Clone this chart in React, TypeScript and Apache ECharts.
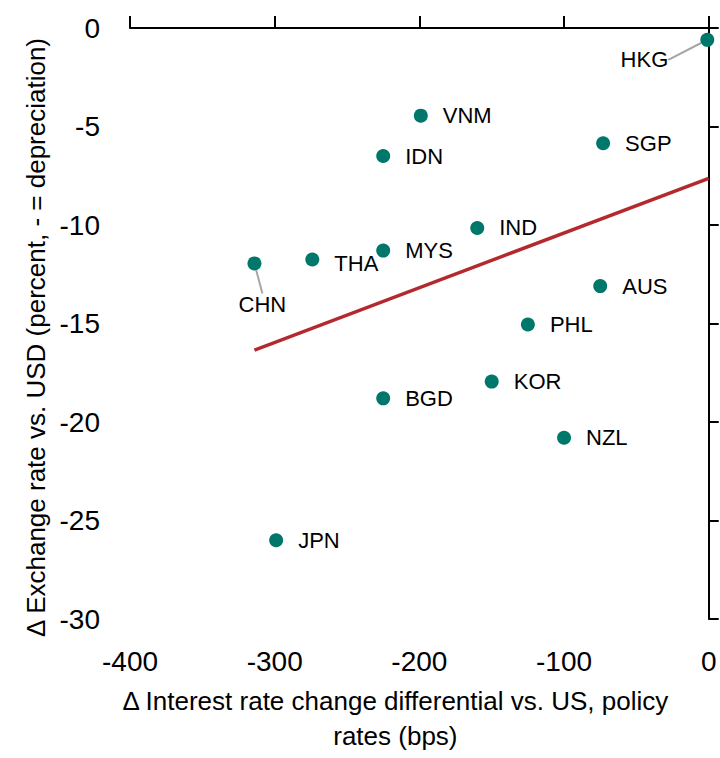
import React, { useEffect, useRef } from "react";
import * as echarts from "echarts";

const countries = ["HKG", "VNM", "IDN", "SGP", "IND", "MYS", "THA", "CHN", "AUS", "PHL", "KOR", "BGD", "NZL", "JPN"];
const rateDiff = [-1, -199, -225, -73, -160, -225, -274, -314, -75, -125, -150, -225, -100, -299];
const fxChange = [-0.6, -4.45, -6.5, -5.85, -10.15, -11.3, -11.75, -11.95, -13.1, -15.05, -17.95, -18.8, -20.8, -26.0];
const trendX = [-314, 0];
const trendY = [-16.35, -7.63];
const xTicks = [-400, -300, -200, -100, 0];
const yTicks = [0, -5, -10, -15, -20, -25, -30];

const FONT = "'Liberation Sans Narrow', 'Arial Narrow', 'Liberation Sans', Arial, sans-serif";

export default function App() {
  const ref = useRef<HTMLDivElement>(null);
  useEffect(() => {
    if (!ref.current) return;
    const chart = echarts.init(ref.current, null, { renderer: "svg" });
    const scatterData = countries.map((c, i) => {
      const item: any = { value: [rateDiff[i], fxChange[i]], name: c };
      if (c === "HKG") {
        item.label = { position: "left" };
        item.labelLine = { show: true, lineStyle: { color: "#a6a6a6", width: 2 } };
      }
      if (c === "CHN") {
        item.label = { position: "bottom" };
        item.labelLine = { show: true, lineStyle: { color: "#a6a6a6", width: 2 } };
      }
      return item;
    });
    chart.setOption({
      animation: false,
      grid: { left: 130, right: 10, top: 28, bottom: 135 },
      xAxis: [
        {
          type: "value",
          position: "top",
          min: xTicks[0],
          max: xTicks[xTicks.length - 1],
          interval: 100,
          axisLine: { show: true, lineStyle: { color: "#000", width: 2 } },
          axisTick: { show: true, length: 12, lineStyle: { color: "#000", width: 2 } },
          axisLabel: { show: false },
          splitLine: { show: false },
        },
        {
          type: "value",
          position: "bottom",
          min: xTicks[0],
          max: xTicks[xTicks.length - 1],
          interval: 100,
          axisLine: { show: false },
          axisTick: { show: false },
          axisLabel: { show: true, fontSize: 28, color: "#000", fontFamily: FONT, margin: 28 },
          splitLine: { show: false },
          name: "Δ Interest rate change differential vs. US, policy\nrates (bps)",
          nameLocation: "middle",
          nameGap: 64,
          nameTextStyle: { fontSize: 26, color: "#000", fontFamily: FONT, lineHeight: 35, padding: [0, 48, 0, 0] },
        },
      ],
      yAxis: [
        {
          type: "value",
          position: "right",
          min: yTicks[yTicks.length - 1],
          max: yTicks[0],
          interval: 5,
          axisLine: { show: true, lineStyle: { color: "#000", width: 2 } },
          axisTick: { show: true, length: 10, lineStyle: { color: "#000", width: 2 } },
          axisLabel: { show: false },
          splitLine: { show: false },
        },
        {
          type: "value",
          position: "left",
          min: yTicks[yTicks.length - 1],
          max: yTicks[0],
          interval: 5,
          axisLine: { show: false },
          axisTick: { show: false },
          axisLabel: { show: true, fontSize: 28, color: "#000", fontFamily: FONT, margin: 30 },
          splitLine: { show: false },
          name: "Δ Exchange rate vs. USD (percent, - = depreciation)",
          nameLocation: "middle",
          nameGap: 66,
          nameRotate: 90,
          nameTextStyle: { fontSize: 26, color: "#000", fontFamily: FONT, padding: [0, 28, 0, 0] },
        },
      ],
      series: [
        {
          type: "line",
          xAxisIndex: 0,
          yAxisIndex: 0,
          data: trendX.map((x, i) => [x, trendY[i]]),
          showSymbol: false,
          symbol: "none",
          lineStyle: { color: "#B3292E", width: 3.5 },
          silent: true,
          z: 1,
        },
        {
          type: "scatter",
          xAxisIndex: 0,
          yAxisIndex: 0,
          data: scatterData,
          symbolSize: 14,
          itemStyle: { color: "#00776B", opacity: 1 },
          label: {
            show: true,
            position: "right",
            distance: 15,
            formatter: (p: any) => p.name,
            fontSize: 22,
            color: "#000",
            opacity: 1,
            fontFamily: FONT,
          },
          labelLayout: (p: any) => {
            const name = countries[p.dataIndex];
            if (name === "HKG") return { dx: -17, dy: 20 };
            if (name === "CHN") return { dx: 8, dy: 8 };
            if (name === "THA") return { dy: 4 };
            return {};
          },
          z: 2,
        },
      ],
    });
    return () => chart.dispose();
  }, []);
  return <div ref={ref} style={{ position: "absolute", left: 0, top: 0, width: 720, height: 758 }} />;
}
